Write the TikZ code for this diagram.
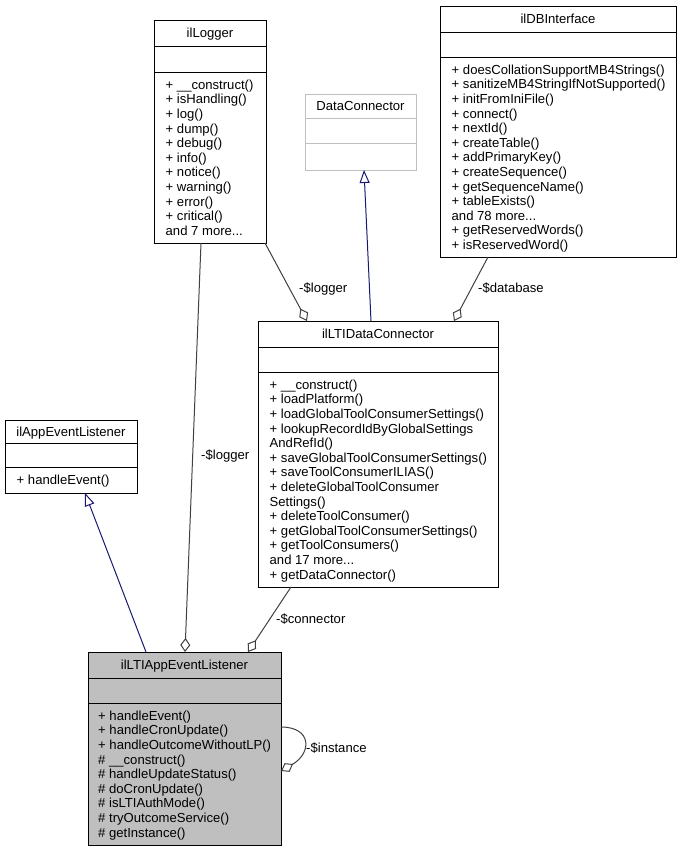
\documentclass[tikz,border=0pt]{standalone}
\usepackage{fontspec}
\setmainfont{Liberation Sans}
\usetikzlibrary{arrows.meta}
\definecolor{edgegray}{HTML}{404040}
\definecolor{inhblue}{HTML}{191970}
\definecolor{lightborder}{HTML}{BFBFBF}
\definecolor{selfill}{HTML}{BFBFBF}
\newcommand\umlfont{\fontsize{13.1}{14.6}\selectfont}
\newcommand\mdots{...}
\newcommand\mlist[4]{\foreach \t [count=\i] in {#4} {\node[txt] (#1-\i) at (#2, {#3+(\i-1)*14.6}) {\t};}}
\begin{document}
\begin{tikzpicture}[x=1pt,y=-1pt,
  box/.style={draw=black, line width=1pt, fill=white, inner sep=0pt, outer sep=0pt, anchor=north west},
  txt/.style={inner sep=0pt, anchor=base west, font=\umlfont},
  ttl/.style={inner sep=0pt, anchor=base, font=\umlfont},
  lbl/.style={inner sep=0pt, anchor=base west, font=\umlfont},
  sep/.style={line width=1pt},
  agg/.style={draw=edgegray, line width=1pt, {Diamond[open,length=14pt,width=10pt]}-},
  inh/.style={draw=inhblue, line width=1pt, {Triangle[open,length=13pt,width=10pt]}-}
]
\useasboundingbox (0,0) rectangle (682,852);

% ilLogger
\node[box, minimum width=112pt, minimum height=223pt] (logger) at (154,20) {};
\draw[sep] (154,46) -- (266,46);
\draw[sep] (154,72) -- (266,72);
\node[ttl] (logger-t) at (210,37.7) {ilLogger};
\mlist{logger}{165.5}{89.2}{+ \_\_construct(), + isHandling(), + log(), + dump(), + debug(), + info(), + notice(), + warning(), + error(), + critical(), and 7 more\mdots}

% DataConnector
\node[box, draw=lightborder, minimum width=111pt, minimum height=76pt] (dc) at (305,94) {};
\draw[sep, lightborder] (305,118) -- (416,118);
\draw[sep, lightborder] (305,143) -- (416,143);
\node[ttl] (dc-t) at (360.5,110.7) {DataConnector};

% ilDBInterface
\node[box, minimum width=236pt, minimum height=251pt] (db) at (440,6) {};
\draw[sep] (440,32) -- (676,32);
\draw[sep] (440,57) -- (676,57);
\node[ttl] (db-t) at (558,23.7) {ilDBInterface};
\mlist{db}{451.5}{74.2}{+ doesCollationSupportMB4Strings(), + sanitizeMB4StringIfNotSupported(), + initFromIniFile(), + connect(), + nextId(), + createTable(), + addPrimaryKey(), + createSequence(), + getSequenceName(), + tableExists(), and 78 more\mdots, + getReservedWords(), + isReservedWord()}

% ilLTIDataConnector
\node[box, minimum width=240pt, minimum height=266pt] (ldc) at (258,321) {};
\draw[sep] (258,347) -- (498,347);
\draw[sep] (258,372) -- (498,372);
\node[ttl] (ldc-t) at (378,338.7) {ilLTIDataConnector};
\mlist{ldc}{269.5}{389.2}{+ \_\_construct(), + loadPlatform(), + loadGlobalToolConsumerSettings(), + lookupRecordIdByGlobalSettings, AndRefId(), + saveGlobalToolConsumerSettings(), + saveToolConsumerILIAS(), + deleteGlobalToolConsumer, Settings(), + deleteToolConsumer(), + getGlobalToolConsumerSettings(), + getToolConsumers(), and 17 more\mdots, + getDataConnector()}

% ilAppEventListener
\node[box, minimum width=132pt, minimum height=73pt] (ael) at (5,420) {};
\draw[sep] (5,443) -- (137,443);
\draw[sep] (5,467) -- (137,467);
\node[ttl] (ael-t) at (71,436.2) {ilAppEventListener};
\mlist{ael}{16.5}{484.7}{+ handleEvent()}

% ilLTIAppEventListener
\node[box, fill=selfill, minimum width=193pt, minimum height=193pt] (lae) at (88,652) {};
\draw[sep] (88,678) -- (281,678);
\draw[sep] (88,703) -- (281,703);
\node[ttl] (lae-t) at (184.5,669.7) {ilLTIAppEventListener};
\mlist{lae}{98}{720.2}{+ handleEvent(), + handleCronUpdate(), + handleOutcomeWithoutLP(), \# \_\_construct(), \# handleUpdateStatus(), \# doCronUpdate(), \# isLTIAuthMode(), \# tryOutcomeService(), \# getInstance()}

% connectors
\draw[inh] (dc.south -| 364,0) -- (ldc.north -| 371,0);
\draw[inh] (ael.south -| 85,0) -- (lae.north -| 146,0);
\draw[agg] (ldc.north -| 307,0) -- (logger.south -| 265,0);
\draw[agg] (ldc.north -| 454,0) -- (db.south -| 488,0);
\draw[agg] (lae.north -| 185,0) -- (logger.south -| 201,0);
\draw[agg] (lae.north -| 248,0) -- (ldc.south -| 291,0);
\draw[agg] (lae.east |- 0,771) .. controls (312,753) and (312,727) .. (lae.east |- 0,727);

% labels
\node[lbl] (l1) at (299,292) {-\$logger};
\node[lbl] (l2) at (478,292) {-\$database};
\node[lbl] (l3) at (201,459) {-\$logger};
\node[lbl] (l4) at (276,623) {-\$connector};
\node[lbl] (l5) at (306,752) {-\$instance};
\end{tikzpicture}
\end{document}
